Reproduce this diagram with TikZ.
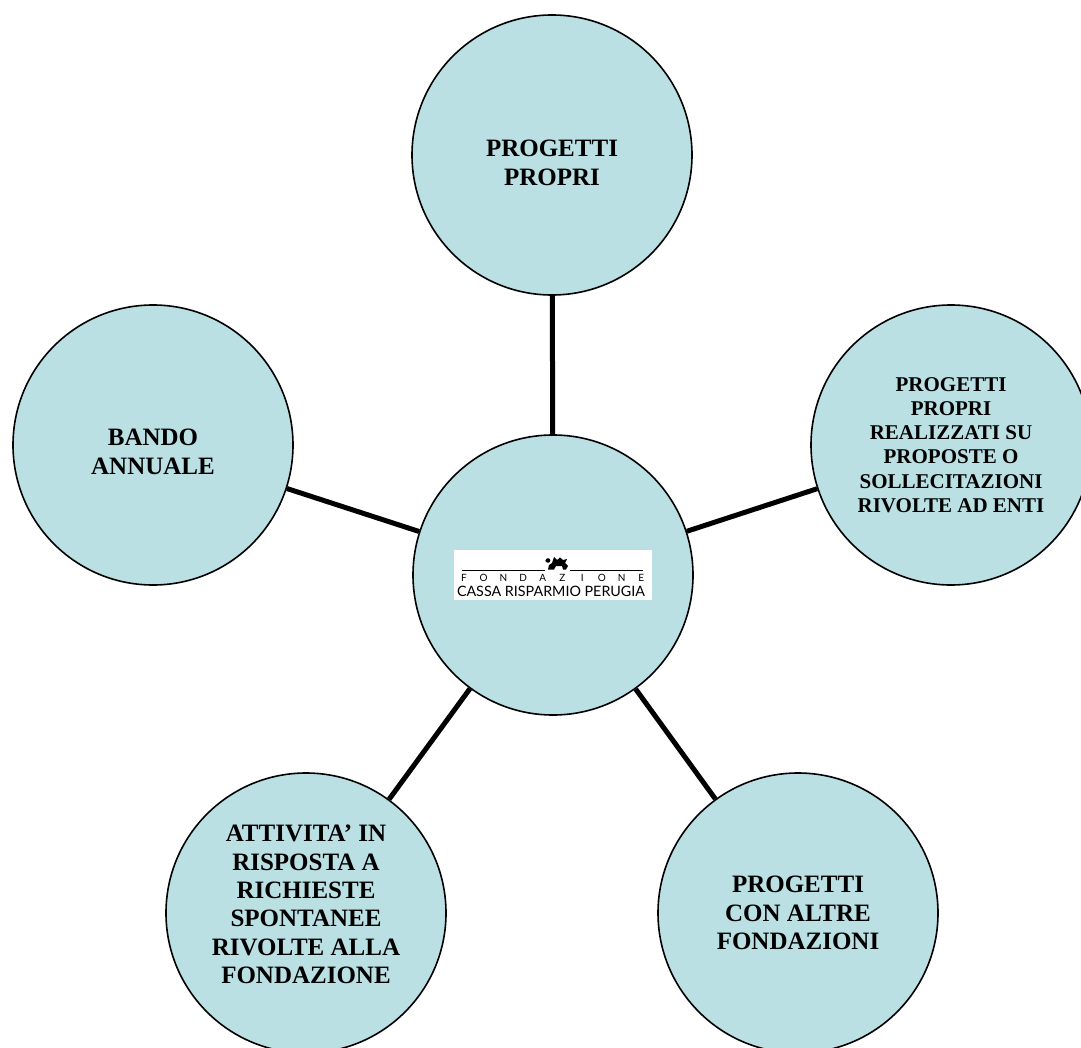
\documentclass[tikz,border=0pt]{standalone}
\usepackage{fontspec}
\setmainfont{Liberation Serif}
\newfontfamily\logofont{Lato}
\usetikzlibrary{backgrounds}
\definecolor{bubfill}{RGB}{186,224,228}
\newcommand{\shiftlines}[2]{\raisebox{#1}[\height][\depth]{\begin{tabular}{@{}c@{}}#2\end{tabular}}}
\begin{document}
\begin{tikzpicture}[x=1pt,y=-1pt,
  bub/.style={circle, draw=black, line width=1.6pt, fill=bubfill, minimum size=280pt, inner sep=0pt, align=center, font=\bfseries\fontsize{25}{29}\selectfont},
  bubsmall/.style={bub, font=\bfseries\fontsize{21}{24.3}\selectfont},
  bubtall/.style={bub, font=\bfseries\fontsize{25}{28.3}\selectfont},
  link/.style={line width=5pt},
  logoline/.style={line width=0.8pt}]
\useasboundingbox (0,0) rectangle (1081,1048);

\node[bub] (top) at (552,155) {\shiftlines{-10pt}{PROGETTI\\PROPRI}};
\node[bub] (left) at (153,445) {\shiftlines{-9pt}{BANDO\\ANNUALE}};
\node[bubsmall] (right) at (951,445) {PROGETTI\\PROPRI\\REALIZZATI SU\\PROPOSTE O\\SOLLECITAZIONI\\RIVOLTE AD ENTI};
\node[bub] (center) at (553,575) {};
\node[bubtall] (bl) at (306,913) {\shiftlines{6pt}{ATTIVITA’ IN\\RISPOSTA A\\RICHIESTE\\SPONTANEE\\RIVOLTE ALLA\\FONDAZIONE}};
\node[bubtall] (br) at (798,913) {PROGETTI\\CON ALTRE\\FONDAZIONI};

\begin{scope}[on background layer]
  \draw[link] (top) -- (center);
  \draw[link] (left) -- (center);
  \draw[link] (right) -- (center);
  \draw[link] (bl) -- (center);
  \draw[link] (br) -- (center);
\end{scope}

% logo
\node[fill=white, minimum width=198pt, minimum height=50pt, inner sep=0pt] (logo) at (553,575) {};
\draw[logoline] (462,570) -- (545,570);
\draw[logoline] (570,570) -- (643,570);
% griffin
\fill (548,569.5) -- (549,565) -- (552,563) -- (554,557) -- (557,560) -- (560,557.5) -- (563,560) -- (567,559) -- (565,563) -- (568,566) -- (566,569.5) -- (563,569.5) -- (562,566) -- (556,566) -- (554,569.5) -- cycle;
\fill (548,560.5) circle (2.3pt);
\fill (545,561) -- (547,559.5) -- (547,562) -- cycle;
\foreach \l [count=\i from 0] in {F,O,N,D,A,Z,I,O,N,E}
  \node[font=\logofont\fontsize{10}{10}\selectfont, inner sep=0pt] (fz\i) at (464+19.7*\i,578) {\l};
\node[inner sep=0pt, font=\logofont] (crp) at (551,591.5) {\resizebox{188pt}{!}{CASSA RISPARMIO PERUGIA}};
\end{tikzpicture}
\end{document}
